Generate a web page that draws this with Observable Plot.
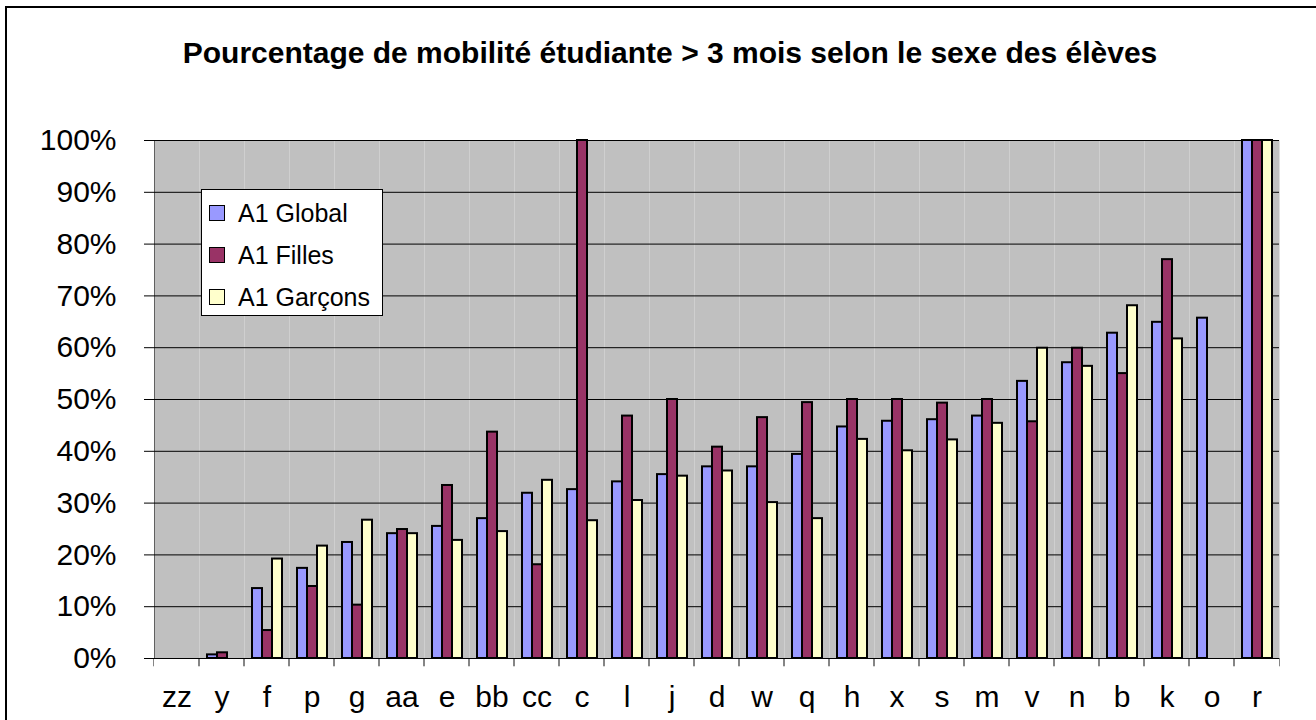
<!DOCTYPE html>
<html>
<head>
<meta charset="utf-8">
<script src="https://cdn.jsdelivr.net/npm/d3@7"></script>
<script src="https://cdn.jsdelivr.net/npm/@observablehq/plot@0.6"></script>
<style>
  html, body { margin: 0; padding: 0; background: #fff; }
  body { font-family: "Liberation Sans", Arial, sans-serif; }
  #wrap { position: relative; width: 1316px; height: 720px; overflow: hidden; }
  #border { position: absolute; left: 5px; top: 6px; width: 1330px; height: 800px; border: 2px solid #000; box-sizing: border-box; }
  #title { position: absolute; top: 34px; left: 12px; width: 1316px; text-align: center; font-weight: bold; font-size: 30px; line-height: 38px; }
  #chart { position: absolute; left: 0; top: 0; }
  #legend { position: absolute; left: 201px; top: 189px; width: 182px; height: 127px; background: #fff; border: 1px solid #000; box-sizing: border-box; padding-top: 2px; }
  .item { display: flex; align-items: center; height: 42px; font-size: 25px; }
  .sw { width: 14px; height: 14px; border: 1px solid #000; margin-left: 7px; margin-right: 13px; }
</style>
</head>
<body>
<div id="wrap">
  <div id="border"></div>
  <div id="title">Pourcentage de mobilité étudiante &gt; 3 mois selon le sexe des élèves</div>
  <div id="chart"></div>
  <div id="legend"></div>
</div>
<script>
const categories = ["zz","y","f","p","g","aa","e","bb","cc","c","l","j","d","w","q","h","x","s","m","v","n","b","k","o","r"];
const series = ["A1 Global","A1 Filles","A1 Garçons"];
const colors = ["#9999FF","#993366","#FFFFCC"];
const globalValues  = [null,0.7,13.5,17.4,22.4,24.1,25.5,27.0,31.9,32.6,34.1,35.5,37.0,37.0,39.4,44.7,45.8,46.1,46.8,53.5,57.1,62.8,64.9,65.7,100];
const fillesValues  = [null,1.1,5.4,13.9,10.3,24.9,33.4,43.7,18.1,100,46.8,50.0,40.8,46.5,49.4,50.0,50.0,49.3,50.0,45.7,59.9,55.0,77.0,null,100];
const garconsValues = [null,null,19.2,21.7,26.7,24.1,22.8,24.5,34.4,26.6,30.5,35.2,36.2,30.1,27.0,42.3,40.1,42.2,45.4,59.9,56.4,68.1,61.7,null,100];
const yTicks = [0,10,20,30,40,50,60,70,80,90,100];

const valueSets = [globalValues, fillesValues, garconsValues];
const rows = [];
categories.forEach((cat, i) => {
  series.forEach((s, j) => rows.push({cat, series: s, value: valueSets[j][i]}));
});

const W = 1316, H = 720;
const mL = 147, mR = 31, mT = 140, mB = 62;
const padOuter = 0.64;
const facetW = (W - mL - mR) / categories.length;
const tickLen = -1.6; // tick length below the baseline, in % units

const chart = Plot.plot({
  width: W, height: H,
  marginLeft: mL, marginRight: mR, marginTop: mT, marginBottom: mB,
  style: {fontFamily: "'Liberation Sans', Arial, sans-serif", fontSize: "30px", background: "transparent", color: "black", overflow: "visible"},
  facet: {data: rows, x: "cat"},
  fx: {domain: categories, padding: 0, label: null, axis: "bottom", tickSize: 0, tickPadding: 27},
  x: {domain: series, axis: null, paddingInner: 0, paddingOuter: padOuter},
  y: {domain: [0, 100], ticks: yTicks, tickFormat: d => d + "%", tickSize: 10, tickPadding: 28, label: null, line: true},
  color: {domain: series, range: colors},
  marks: [
    Plot.frame({fill: "#C0C0C0", stroke: null}),
    Plot.ruleY(yTicks, {stroke: "black", strokeWidth: 1}),
    Plot.barY(rows, {x: "series", y: "value", fill: "series", stroke: "black", strokeWidth: 2, inset: 0}),
    Plot.rect([0], {y1: 0, y2: tickLen, fill: "black", insetLeft: -0.5, insetRight: facetW - 0.5}),
    Plot.rect([0], {y1: 0, y2: tickLen, fill: "black", insetLeft: facetW - 0.5, insetRight: -0.5})
  ]
});
document.getElementById("chart").appendChild(chart);

const legend = document.getElementById("legend");
series.forEach((s, i) => {
  const item = document.createElement("div");
  item.className = "item";
  const sw = document.createElement("div");
  sw.className = "sw";
  sw.style.background = colors[i];
  const t = document.createElement("span");
  t.textContent = s;
  item.appendChild(sw);
  item.appendChild(t);
  legend.appendChild(item);
});
</script>
</body>
</html>
